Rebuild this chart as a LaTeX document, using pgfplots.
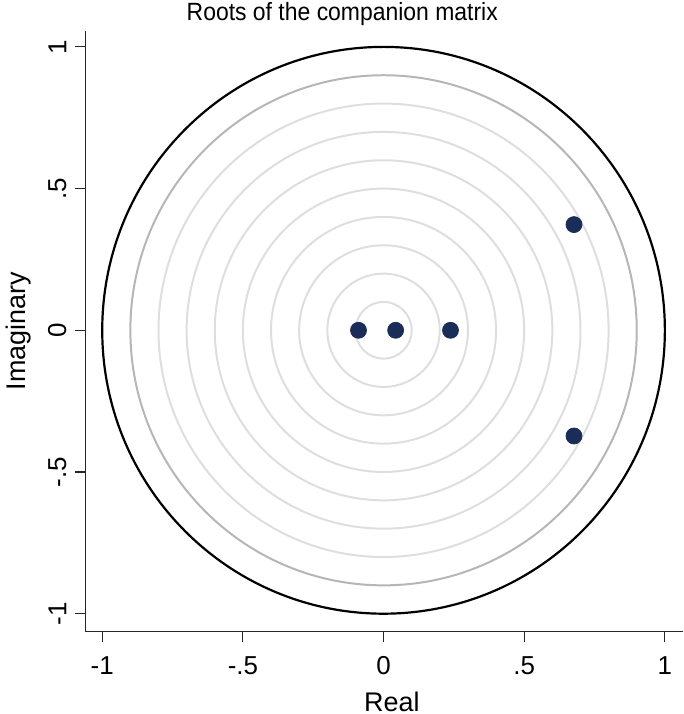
\documentclass[border=0pt]{standalone}
\usepackage{pgfplots}
\pgfplotsset{compat=1.18}
\usepackage{fontspec}
\setmainfont{Liberation Sans}
\newfontfamily\titlefont{Liberation Sans}[FakeStretch=0.92]
\definecolor{rootblue}{RGB}{26,44,88}
\definecolor{ringlight}{RGB}{222,222,222}
\definecolor{ringmid}{RGB}{182,182,182}
\begin{document}
\begin{tikzpicture}
\begin{axis}[
  scale only axis,
  width=299.5pt, height=301pt,
  xmin=-1.06, xmax=1.064, ymin=-1.063, ymax=1.056,
  axis x line*=bottom, axis y line*=left,
  axis line style={line width=0.6pt, black!85},
  xtick={-1,-0.5,0,0.5,1}, xticklabels={-1,-.5,0,.5,1},
  ytick={-1,-0.5,0,0.5,1}, yticklabels={-1,-.5,0,.5,1},
  tick align=outside, major tick length=5pt,
  tick style={black!85, line width=0.6pt},
  y tick label style={rotate=90, anchor=south, yshift=1pt},
  x tick label style={yshift=-4pt},
  tick label style={font=\fontsize{13}{15}\selectfont},
  xlabel={Real}, ylabel={Imaginary},
  every axis x label/.style={at={(0.513,0)}, anchor=base, yshift=-40pt, inner sep=1.2pt, font=\fontsize{13.5}{16}\selectfont},
  every axis y label/.style={at={(0,0.5)}, xshift=-30pt, rotate=90, anchor=base, inner sep=3pt, font=\fontsize{13.5}{16}\selectfont},
  title={Roots of the companion matrix},
  every axis title/.style={at={(0.43,1)}, anchor=base, yshift=5.5pt, inner sep=1pt, font=\titlefont\fontsize{12.5}{14}\selectfont},
  clip=false,
]
% reference rings
\draw[ringlight, line width=1pt] (axis cs:0,0) ellipse [x radius=0.1, y radius=0.1];
\draw[ringlight, line width=1pt] (axis cs:0,0) ellipse [x radius=0.2, y radius=0.2];
\draw[ringlight, line width=1pt] (axis cs:0,0) ellipse [x radius=0.3, y radius=0.3];
\draw[ringlight, line width=1pt] (axis cs:0,0) ellipse [x radius=0.4, y radius=0.4];
\draw[ringlight, line width=1pt] (axis cs:0,0) ellipse [x radius=0.5, y radius=0.5];
\draw[ringlight, line width=1pt] (axis cs:0,0) ellipse [x radius=0.6, y radius=0.6];
\draw[ringlight, line width=1pt] (axis cs:0,0) ellipse [x radius=0.7, y radius=0.7];
\draw[ringlight, line width=1pt] (axis cs:0,0) ellipse [x radius=0.8, y radius=0.8];
\draw[ringmid, line width=1pt] (axis cs:0,0) ellipse [x radius=0.9, y radius=0.9];
\draw[black, line width=1.1pt] (axis cs:0,0) ellipse [x radius=1, y radius=1];
% eigenvalues
\addplot[only marks, mark=*, mark size=4pt, color=rootblue] coordinates {
  (-0.089,0) (0.043,0) (0.238,0) (0.677,0.373) (0.677,-0.373)
};
\end{axis}
\end{tikzpicture}
\end{document}
